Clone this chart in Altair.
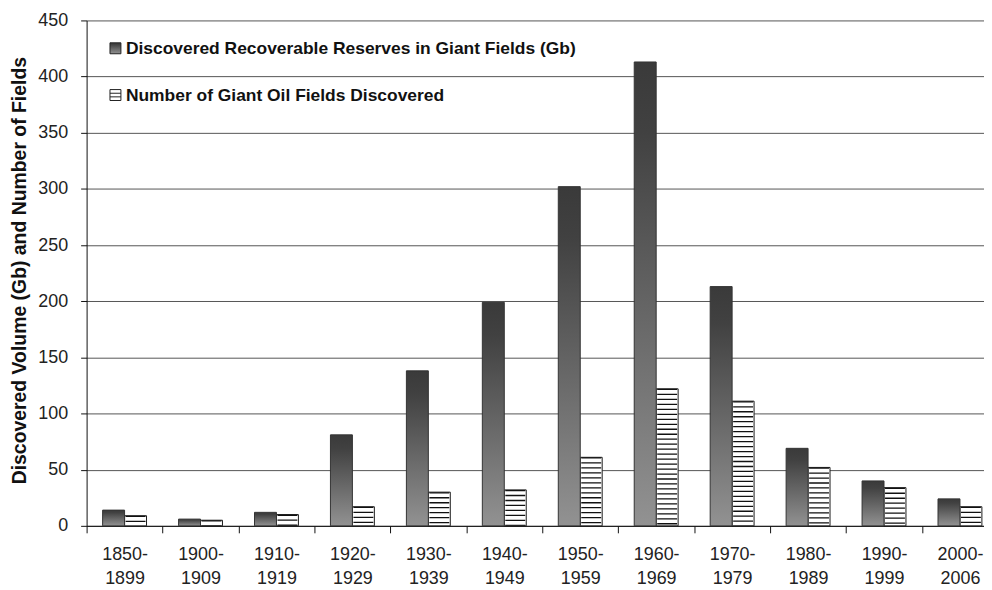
import altair as alt
import pandas as pd

periods = ["1850-1899", "1900-1909", "1910-1919", "1920-1929", "1930-1939", "1940-1949",
           "1950-1959", "1960-1969", "1970-1979", "1980-1989", "1990-1999", "2000-2006"]
reserves = [14, 6, 12, 81, 138, 199, 302, 413, 213, 69, 40, 24]
fields = [9, 5, 10, 17, 30, 32, 61, 122, 111, 52, 34, 17]
series = ["Discovered Recoverable Reserves in Giant Fields (Gb)",
          "Number of Giant Oil Fields Discovered"]
y_ticks = [0, 50, 100, 150, 200, 250, 300, 350, 400, 450]

rows = []
for p, r, f in zip(periods, reserves, fields):
    rows.append({"period": p, "series": series[0], "value": r})
    rows.append({"period": p, "series": series[1], "value": f})
df = pd.DataFrame(rows)

FONT = "Liberation Sans"

grad = alt.Gradient(gradient="linear", x1=0, x2=0, y1=0, y2=1,
                    stops=[alt.GradientStop(offset=0, color="#3a3a3a"),
                           alt.GradientStop(offset=0.15, color="#414141"),
                           alt.GradientStop(offset=1, color="#929292")])

x_enc = alt.X("period:N", sort=periods,
              scale=alt.Scale(range=[0, 916], paddingInner=0, paddingOuter=0),
              axis=alt.Axis(title=None, tickBand="extent", labelAngle=0,
                            labelExpr="[substring(datum.label,0,5), substring(datum.label,5)]",
                            labelFont=FONT, labelFontSize=18, labelColor="#222",
                            labelPadding=13, labelLineHeight=24, labelBaseline="top",
                            tickSize=7, tickColor="#111", domainColor="#111",
                            grid=False))
xoff = alt.XOffset("series:N", sort=series,
                   scale=alt.Scale(domain=series, paddingInner=0, paddingOuter=0.73))
y_enc = alt.Y("value:Q", scale=alt.Scale(domain=[0, 450], nice=False),
              axis=alt.Axis(values=y_ticks, title="Discovered Volume (Gb) and Number of Fields",
                            titleFont=FONT, titleFontSize=19.5, titleFontWeight="bold",
                            titleColor="#111", titleAngle=270, titleX=-67, titleY=251,
                            titleAlign="center", titleBaseline="middle",
                            labelFont=FONT, labelFontSize=18, labelColor="#222",
                            labelPadding=13, tickSize=6, tickColor="#111",
                            domainColor="#111", grid=True, gridColor="#555",
                            gridWidth=1))

base = alt.Chart(df)

bars = base.transform_filter(alt.datum.series == series[1]).mark_bar(
    fill="#ffffff", stroke="#1a1a1a", strokeWidth=1).encode(x=x_enc, xOffset=xoff, y=y_enc)

grad_bars = base.transform_filter(alt.datum.series == series[0]).mark_bar(
    fill=grad, stroke="#333333", strokeWidth=1).encode(x=x_enc, xOffset=xoff, y=y_enc)

stripes = base.transform_filter(alt.datum.series == series[1]).mark_rule(
    color="#111111", strokeWidth=20, strokeDash=[1.3, 3.7], strokeCap="butt").encode(
    x=x_enc, xOffset=xoff, y=y_enc, y2=alt.datum(0))

# legend (drawn manually, inside the plot at top-left)
leg_df = pd.DataFrame({"label": series})
leg1 = alt.Chart(leg_df).transform_filter(alt.datum.label == series[0])
leg2 = alt.Chart(leg_df).transform_filter(alt.datum.label == series[1])

sym1 = leg1.mark_point(shape="square", size=121, fill=grad, stroke="#222", strokeWidth=1,
                       opacity=1, filled=True).encode(x=alt.value(29), y=alt.value(28))
sym2 = leg2.mark_point(shape="M-1,-1H1V1H-1ZM-1,-0.33H1M-1,0.33H1", size=121, fill="#ffffff",
                       stroke="#222", strokeWidth=1, opacity=1, filled=True).encode(
    x=alt.value(29), y=alt.value(75))
txt1 = leg1.mark_text(align="left", baseline="middle", font=FONT, fontSize=17.5,
                      fontWeight="bold", color="#111").encode(
    x=alt.value(39.5), y=alt.value(28.5), text="label:N")
txt2 = leg2.mark_text(align="left", baseline="middle", font=FONT, fontSize=17.5,
                      fontWeight="bold", color="#111").encode(
    x=alt.value(39.5), y=alt.value(75.5), text="label:N")

chart = alt.layer(bars, grad_bars, stripes, sym1, sym2, txt1, txt2).properties(
    width=902, height=508,
    padding={"left": 79, "top": 11, "right": 0, "bottom": 62},
    autosize=alt.AutoSizeParams(type="none"),
    background="white",
).configure_view(stroke=None)

chart.save("out.html", embed_options={"renderer": "svg", "actions": False})
